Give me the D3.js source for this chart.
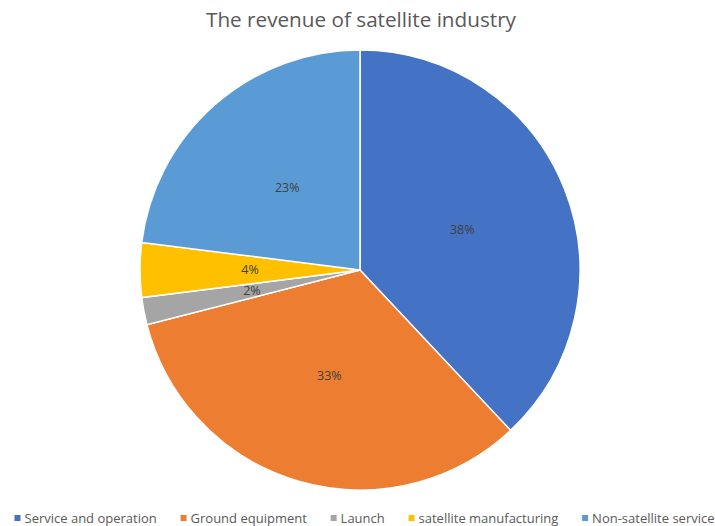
<!DOCTYPE html>
<html><head><meta charset="utf-8">
<script src="https://cdn.jsdelivr.net/npm/d3@7"></script>
<style>body{margin:0;background:#fff}svg{display:block}</style>
</head><body><svg id="c" width="715" height="526"></svg>
<script>
const categories = ["Service and operation","Ground equipment","Launch","satellite manufacturing","Non-satellite service"];
const values = [38, 33, 2, 4, 23];
const colors = ["#4472C4","#ED7D31","#A5A5A5","#FFC000","#5B9BD5"];
const title = "The revenue of satellite industry";

const svg = d3.select("#c");
const W = 715, H = 526;
const cx = 360, cy = 270, R = 220;
const font = "'Open Sans', sans-serif";

svg.append("text").attr("x", 361).attr("y", 27).attr("text-anchor","middle")
  .attr("font-family", font).attr("font-size", 20.7).attr("fill","#595959").text(title);

const data = categories.map((c,i)=>({c, v: values[i], col: colors[i]}));
const pie = d3.pie().value(d=>d.v).sort(null);
const arc = d3.arc().innerRadius(0).outerRadius(R);
const arcs = pie(data);
const g = svg.append("g").attr("transform",`translate(${cx},${cy})`);
g.selectAll("path").data(arcs).join("path").attr("d", arc)
  .attr("fill", d=>d.data.col).attr("stroke","#fff").attr("stroke-width",1.5);
g.selectAll("text").data(arcs).join("text")
  .attr("transform", d=>`translate(${arc.centroid(d)})`)
  .attr("text-anchor","middle").attr("dy","0.35em")
  .attr("font-family", font).attr("font-size", 12.5).attr("fill","#404040")
  .text(d=>d.data.v + "%");

// legend
const lg = svg.append("g");
const items = lg.selectAll("g").data(data).join("g");
items.append("rect").attr("width",6).attr("height",6).attr("y",-8).attr("fill", d=>d.col);
items.append("text").attr("x",10).attr("y",0)
  .attr("font-family", font).attr("font-size", 13).attr("fill","#595959").text(d=>d.c);
const widths = [];
items.each(function(d){ const w = 10 + d3.select(this).select("text").node().getComputedTextLength(); widths.push(w); });
const sumW = d3.sum(widths);
const gap = Math.max(8, (700 - sumW) / (data.length - 1));
let x = 0;
items.attr("transform", (d,i)=>{ const t = `translate(${x},0)`; x += widths[i] + gap; return t; });
const total = x - gap;
lg.attr("transform", `translate(${(W-total)/2 + 7},523)`);
</script></body></html>
